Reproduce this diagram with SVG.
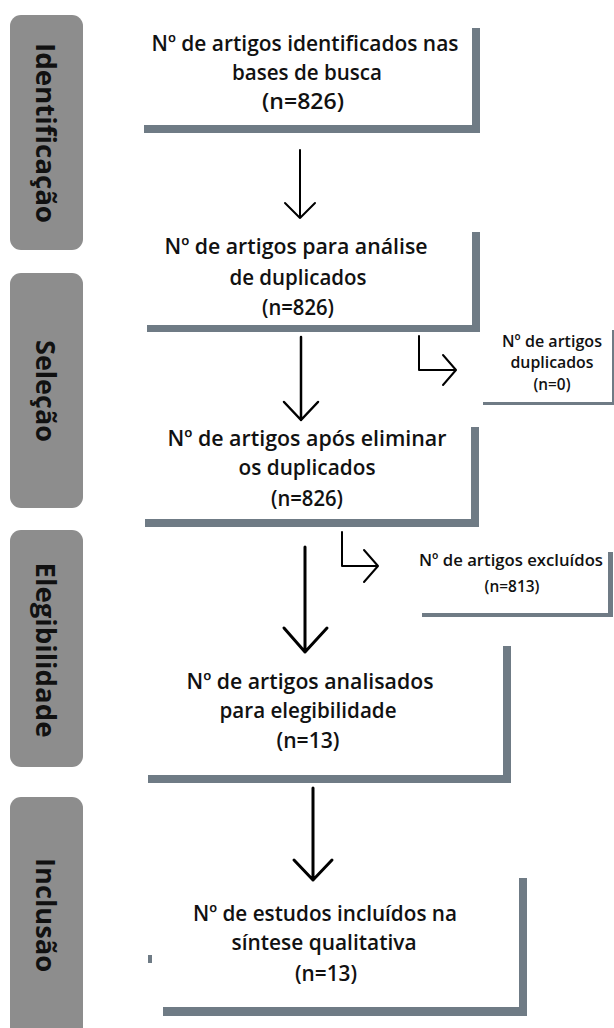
<svg xmlns="http://www.w3.org/2000/svg" width="614" height="1028" viewBox="0 0 614 1028">
<style>
.tab{fill:#8d8d8d}
.tabt{font-family:"Open Sans","DejaVu Sans",sans-serif;font-weight:700;font-size:26px;fill:#111;text-anchor:middle}
.bar{fill:#6f7b85}
.t{font-family:"Open Sans","DejaVu Sans",sans-serif;font-weight:600;font-size:22px;fill:#111;text-anchor:middle}
.ts{font-family:"Open Sans","DejaVu Sans",sans-serif;font-weight:600;font-size:17px;fill:#111;text-anchor:middle}
.ln{fill:none;stroke:#000;stroke-linecap:round;stroke-linejoin:round}
</style>
<rect width="614" height="1028" fill="#fff"/>
<g id="tab-identificacao"><rect class="tab" x="10" y="15" width="73" height="235" rx="11"/><text class="tabt" transform="translate(36,133) rotate(90)" textLength="180" lengthAdjust="spacingAndGlyphs">Identificação</text></g>
<g id="tab-selecao"><rect class="tab" x="10" y="273" width="73" height="235" rx="11"/><text class="tabt" transform="translate(36,391) rotate(90)" textLength="102" lengthAdjust="spacingAndGlyphs">Seleção</text></g>
<g id="tab-elegibilidade"><rect class="tab" x="10" y="530" width="73" height="237" rx="11"/><text class="tabt" transform="translate(36,650) rotate(90)" textLength="175" lengthAdjust="spacingAndGlyphs">Elegibilidade</text></g>
<g id="tab-inclusao"><rect class="tab" x="10" y="797" width="73" height="245" rx="11"/><text class="tabt" transform="translate(36,915) rotate(90)" textLength="114" lengthAdjust="spacingAndGlyphs">Inclusão</text></g>

<g id="box-identificados">
<rect class="bar" x="472" y="28" width="8" height="105"/><rect class="bar" x="144" y="125" width="336" height="8"/>
<text class="t" x="305" y="51" textLength="307" lengthAdjust="spacingAndGlyphs">Nº de artigos identificados nas</text>
<text class="t" x="307" y="80" textLength="150" lengthAdjust="spacingAndGlyphs">bases de busca</text>
<text class="t" x="303" y="109" textLength="82" lengthAdjust="spacingAndGlyphs">(n=826)</text>
</g>
<g id="box-analise-duplicados">
<rect class="bar" x="472" y="232" width="8" height="100"/><rect class="bar" x="147" y="325" width="333" height="7"/>
<text class="t" x="296" y="254" textLength="263" lengthAdjust="spacingAndGlyphs">Nº de artigos  para análise</text>
<text class="t" x="298" y="285" textLength="137" lengthAdjust="spacingAndGlyphs">de duplicados</text>
<text class="t" x="298" y="315" textLength="72" lengthAdjust="spacingAndGlyphs">(n=826)</text>
</g>
<g id="box-duplicados">
<rect class="bar" x="483" y="402" width="131" height="3"/><rect class="bar" x="612" y="330" width="2" height="75"/>
<text class="ts" x="552" y="347" textLength="100" lengthAdjust="spacingAndGlyphs">Nº de artigos</text>
<text class="ts" x="552" y="368" textLength="83" lengthAdjust="spacingAndGlyphs">duplicados</text>
<text class="ts" x="552" y="390" textLength="37" lengthAdjust="spacingAndGlyphs">(n=0)</text>
</g>
<g id="box-apos-eliminar">
<rect class="bar" x="471" y="427" width="8" height="100"/><rect class="bar" x="145" y="519" width="334" height="8"/>
<text class="t" x="307" y="446" textLength="279" lengthAdjust="spacingAndGlyphs">Nº de artigos  após eliminar</text>
<text class="t" x="307" y="475" textLength="137" lengthAdjust="spacingAndGlyphs">os duplicados</text>
<text class="t" x="307" y="506" textLength="72" lengthAdjust="spacingAndGlyphs">(n=826)</text>
</g>
<g id="box-excluidos">
<rect class="bar" x="608" y="552" width="5" height="65"/><rect class="bar" x="422" y="613" width="191" height="4"/>
<text class="ts" x="511" y="566" textLength="184" lengthAdjust="spacingAndGlyphs">Nº de artigos  excluídos</text>
<text class="ts" x="512" y="592" textLength="55" lengthAdjust="spacingAndGlyphs">(n=813)</text>
</g>
<g id="box-elegibilidade">
<rect class="bar" x="503" y="646" width="8" height="137"/><rect class="bar" x="148" y="775" width="363" height="8"/>
<text class="t" x="310" y="689" textLength="247" lengthAdjust="spacingAndGlyphs">Nº de artigos  analisados</text>
<text class="t" x="308" y="718" textLength="177" lengthAdjust="spacingAndGlyphs">para elegibilidade</text>
<text class="t" x="308" y="748" textLength="63" lengthAdjust="spacingAndGlyphs">(n=13)</text>
</g>
<g id="box-incluidos">
<rect class="bar" x="519" y="878" width="8" height="138"/><rect class="bar" x="163" y="1007" width="364" height="9"/>
<rect class="bar" x="148" y="955" width="4" height="8"/>
<text class="t" x="325" y="921" textLength="264" lengthAdjust="spacingAndGlyphs">Nº de estudos incluídos na</text>
<text class="t" x="324" y="950" textLength="185" lengthAdjust="spacingAndGlyphs">síntese qualitativa</text>
<text class="t" x="326" y="981" textLength="62" lengthAdjust="spacingAndGlyphs">(n=13)</text>
</g>

<g id="connectors">
<path class="ln" stroke-width="2" d="M300,150 V218 M285,203 L300,218 L315,203"/>
<path class="ln" stroke-width="2.5" d="M301,337 V420 M284,402 L301,420 L318,402"/>
<path class="ln" stroke-width="2" d="M419,336 V370 H456 M443,355 L456,370 L443,385"/>
<path class="ln" stroke-width="2" d="M342,532 V566 H378 M364,550 L378,566 L364,582"/>
<path class="ln" stroke-width="3" d="M305,547 V652 M284,628 L305,652 L327,628"/>
<path class="ln" stroke-width="3" d="M313,788 V880 M294,860 L313,880 L332,860"/>
</g>
</svg>
